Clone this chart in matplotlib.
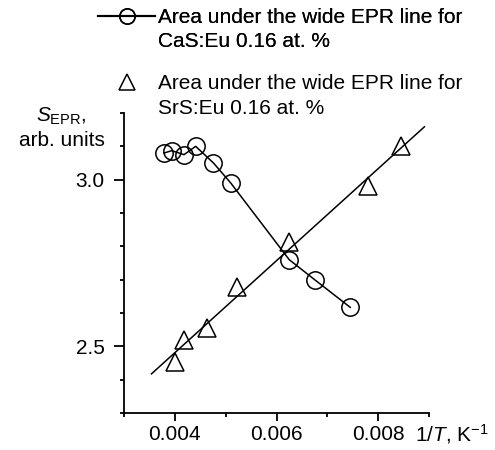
import numpy as np
import matplotlib
matplotlib.use("Agg")
import matplotlib.pyplot as plt
from matplotlib.lines import Line2D
from matplotlib.ticker import MultipleLocator

plt.rcParams['font.family'] = ['Liberation Sans', 'DejaVu Sans']
plt.rcParams['mathtext.fontset'] = 'custom'
plt.rcParams['mathtext.rm'] = 'Liberation Sans'
plt.rcParams['mathtext.it'] = 'Liberation Sans:italic'

# Data
cas_x = [0.00379, 0.00394, 0.00418, 0.00441, 0.00476, 0.00510, 0.00625, 0.00675, 0.00745]
cas_y = [3.080, 3.087, 3.075, 3.100, 3.050, 2.990, 2.760, 2.700, 2.617]

srs_x = [0.00400, 0.00418, 0.00464, 0.00522, 0.00625, 0.00780, 0.00845]
srs_y = [2.452, 2.520, 2.555, 2.678, 2.812, 2.980, 3.100]
srs_fit_range = [0.00354, 0.00891]

x_major = [0.004, 0.006, 0.008]
x_labels = ["0.004", "0.006", "0.008"]
y_major = [2.5, 3.0]
y_labels = ["2.5", "3.0"]

label_cas = ["Area under the wide EPR line for", "CaS:Eu 0.16 at. %"]
label_srs = ["Area under the wide EPR line for", "SrS:Eu 0.16 at. %"]
ylabel_text = "$\\mathit{S}_{\\mathrm{EPR}}$,\narb. units"
xlabel_text = "1/$\\mathit{T}$, K$^{-1}$"

fig = plt.figure(figsize=(4.95, 4.5), dpi=100)
ax = fig.add_axes([124/495, 37/450, 305/495, 300/450])

ms = 12.5
mew = 1.1
# CaS circles connected
ax.plot(cas_x, cas_y, '-', color='black', lw=1.1, zorder=2)
ax.plot(cas_x, cas_y, 'o', mfc='none', mec='black', ms=ms, mew=mew, zorder=3)

# SrS triangles with linear fit
coef = np.polyfit(srs_x, srs_y, 1)
fx = np.array(srs_fit_range)
ax.plot(fx, np.polyval(coef, fx), '-', color='black', lw=1.1, zorder=2)
ax.plot(srs_x, srs_y, '^', mfc='none', mec='black', ms=ms, mew=mew, zorder=3)

ax.set_xlim(0.003, 0.009)
ax.set_ylim(2.3, 3.2)
ax.set_xticks(x_major)
ax.set_xticklabels(x_labels)
ax.set_yticks(y_major)
ax.set_yticklabels(y_labels)
ax.xaxis.set_minor_locator(MultipleLocator(0.001))
ax.yaxis.set_minor_locator(MultipleLocator(0.1))

for s in ['top', 'right']:
    ax.spines[s].set_visible(False)
for s in ['left', 'bottom']:
    ax.spines[s].set_linewidth(1.3)

ax.tick_params(axis='x', which='major', length=5.5, width=1.3, direction='out', labelsize=15, pad=3)
ax.tick_params(axis='x', which='minor', length=3, width=1.3, direction='out')
ax.tick_params(axis='y', which='major', length=7, width=1.3, direction='out', labelsize=15, pad=7)
ax.tick_params(axis='y', which='minor', length=3, width=1.3, direction='out')

# y label (two centered lines)
fig.text(61.5/495, 1 - 128/450, ylabel_text, ha='center', va='center', fontsize=15,
         linespacing=1.3)
# x label at the end of axis
fig.text(415/495, 1 - 434/450, xlabel_text, ha='left', va='center', fontsize=15)

# legends
h_cas = Line2D([], [], color='black', lw=1.5, marker='o', mfc='none', mec='black', ms=11, mew=mew)
h_srs = Line2D([], [], color='none', lw=0, marker='^', mfc='none', mec='black', ms=11, mew=mew)
h_blank = Line2D([], [], color='none', lw=0)

leg1 = fig.legend([h_cas, h_blank], label_cas, loc='upper left',
                  bbox_to_anchor=(98/495, 1 - 8/450), frameon=False, fontsize=15,
                  borderpad=0, borderaxespad=0, handlelength=2.75, handletextpad=0.15,
                  labelspacing=0.22)
fig.add_artist(leg1)
leg2 = fig.legend([h_srs, h_blank], label_srs, loc='upper left',
                  bbox_to_anchor=(98/495, 1 - 74/450), frameon=False, fontsize=15,
                  borderpad=0, borderaxespad=0, handlelength=2.75, handletextpad=0.15,
                  labelspacing=0.3)

fig.savefig("out.png", dpi=100)
